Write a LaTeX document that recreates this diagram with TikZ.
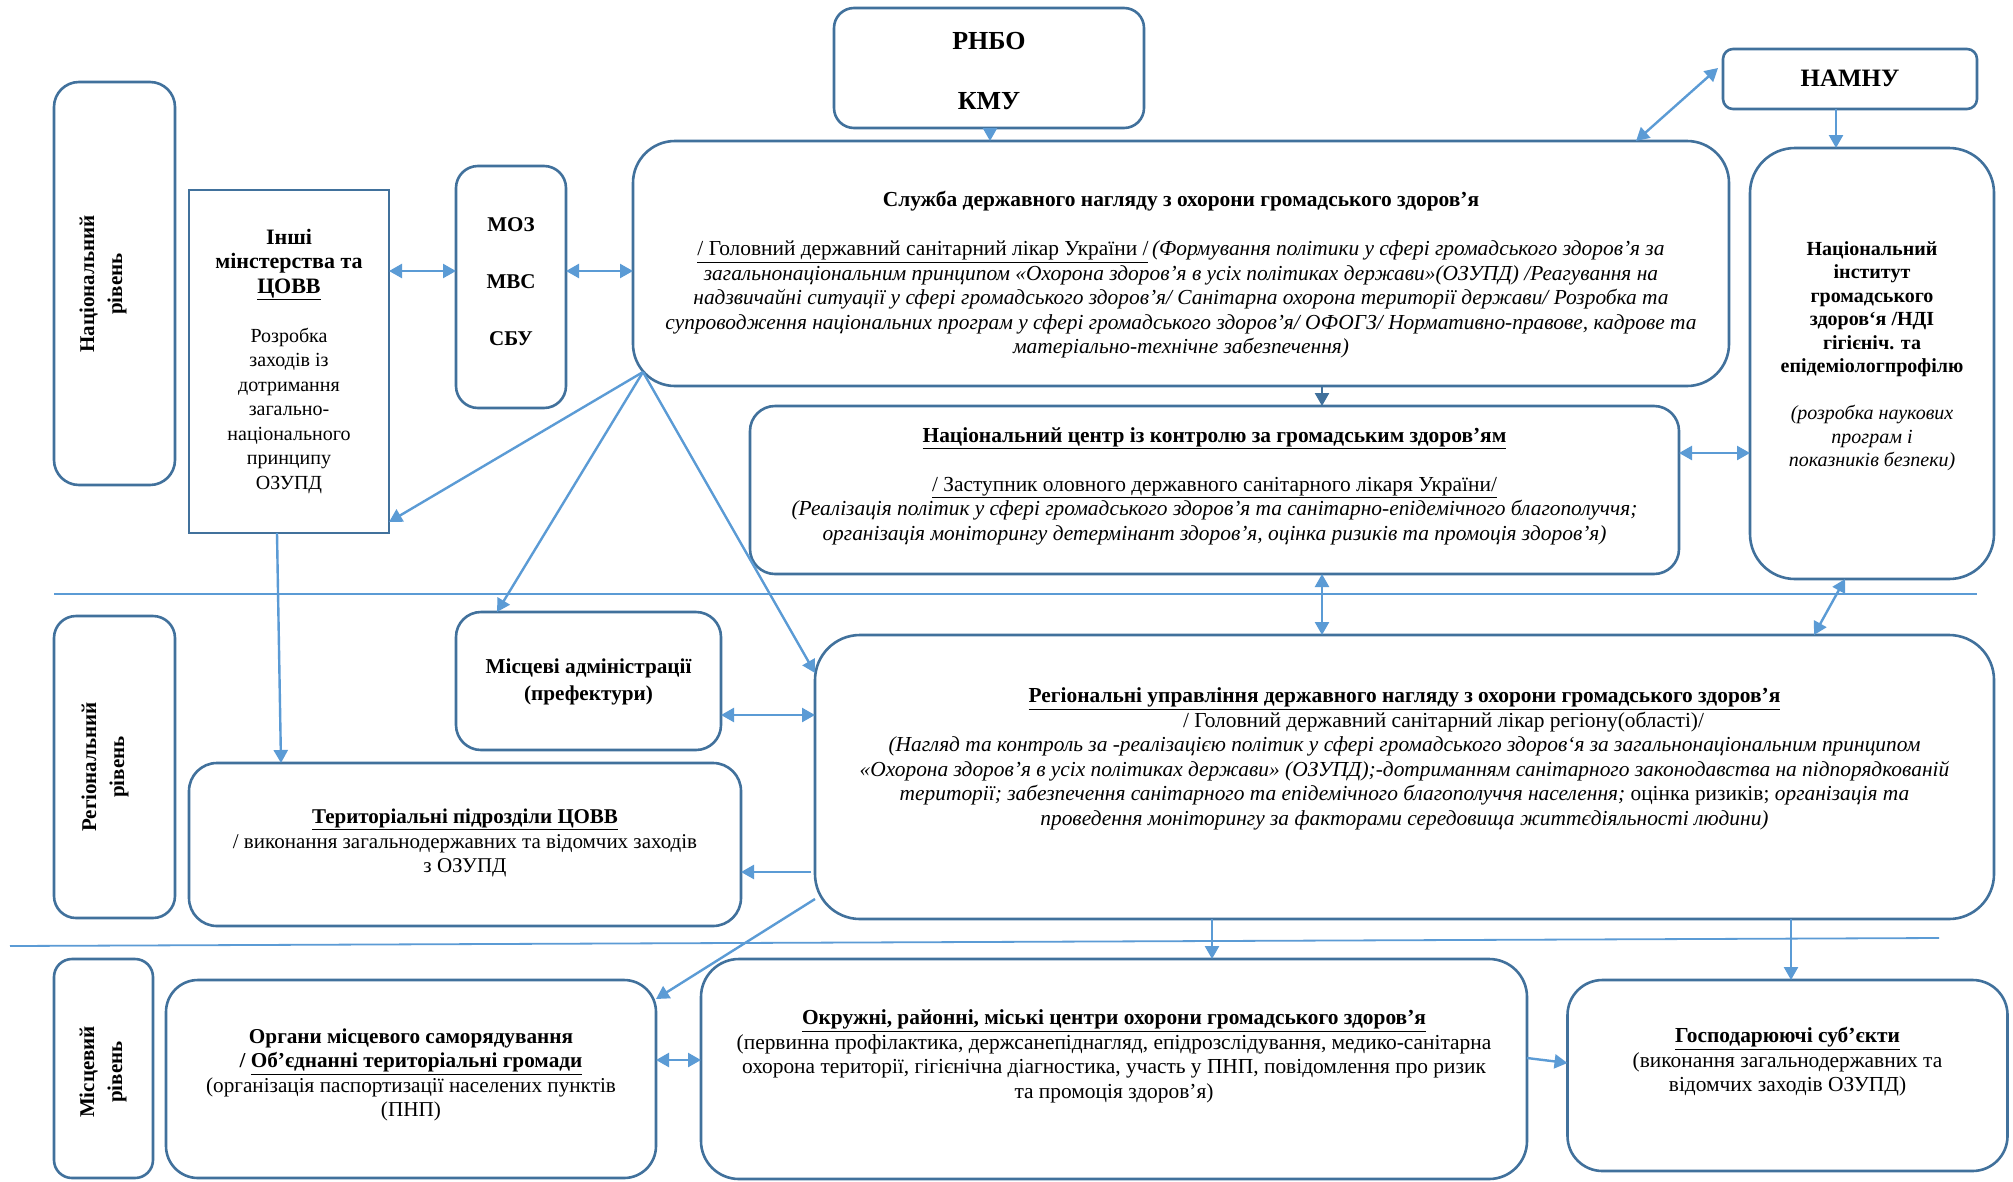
\documentclass[tikz,border=0pt]{standalone}
\usepackage{fontspec}
\setmainfont{Liberation Serif}
\usetikzlibrary{arrows.meta,calc}
\definecolor{bordc}{HTML}{41719C}
\definecolor{arrc}{HTML}{5B9BD5}
\begin{document}
\begin{tikzpicture}[x=1pt,y=-1pt,
  box/.style={draw=bordc, line width=2.6pt, rounded corners=#1, inner sep=0pt, outer sep=0pt, minimum width=10pt},
  box/.default=25pt,
  txt/.style={align=center, inner sep=0pt, font=\fontsize{21.4}{24.5}\selectfont},
  lvl/.style={rotate=90, align=center, inner sep=0pt, font=\bfseries\fontsize{21}{28}\selectfont},
  arr/.style={draw=arrc, line width=2.4pt, -{Triangle[length=13pt,width=14pt]}},
  biarr/.style={draw=arrc, line width=2.4pt, {Triangle[length=13pt,width=14pt]}-{Triangle[length=13pt,width=14pt]}},
  sep/.style={draw=arrc, line width=1.8pt}
]
\useasboundingbox (0,0) rectangle (2013,1181);
\fill[white] (0,0) rectangle (2013,1181);

% level boxes
\node[box=25pt, minimum width=121pt, minimum height=403pt] (natb) at (114.5,283.5) {};
\node[box=22pt, minimum width=121pt, minimum height=302pt] (regb) at (114.5,767) {};
\node[box=18pt, minimum width=99pt, minimum height=219pt] (locb) at (103.5,1068.5) {};
\node[lvl] (natl) at (103,284) {Національний\\рівень};
\node[lvl] (regl) at (105,767) {Регіональний\\рівень};
\node[lvl] (locl) at (103,1072) {Місцевий\\рівень};

% boxes
\node[box=0pt, minimum width=200pt, minimum height=343pt] (inshi) at (289,361.5) {};
\node[box=22pt, minimum width=110pt, minimum height=242pt] (moz) at (511,287) {};
\node[box=20pt, minimum width=310pt, minimum height=120pt] (rnbo) at (989,68) {};
\node[box=42pt, minimum width=1096pt, minimum height=245pt] (sl) at (1181,263.5) {};
\node[box=10pt, minimum width=254pt, minimum height=60pt] (namnu) at (1850,79) {};
\node[box=45pt, minimum width=244pt, minimum height=431pt] (inst) at (1872,363.5) {};
\node[box=25pt, minimum width=929pt, minimum height=168pt] (nc) at (1214.5,490) {};
\node[box=25pt, minimum width=265pt, minimum height=138pt] (madm) at (588.5,681) {};
\node[box=45pt, minimum width=1179pt, minimum height=284pt] (reg) at (1404.5,777) {};
\node[box=28pt, minimum width=552pt, minimum height=163pt] (ter) at (465,844.5) {};
\node[box=32pt, minimum width=490pt, minimum height=198pt] (org) at (411,1079) {};
\node[box=38pt, minimum width=826pt, minimum height=220pt] (okr) at (1114,1069) {};
\node[box=35pt, minimum width=440pt, minimum height=191pt] (gosp) at (1787.5,1075.5) {};

% texts
\node[txt, font=\bfseries\fontsize{26}{30}\selectfont] (rnbot) at (989,71) {РНБО\\[30pt]КМУ};
\node[txt, font=\bfseries\fontsize{25}{30}\selectfont] (namnut) at (1850,78) {НАМНУ};
\node[txt, font=\bfseries\fontsize{21}{28.5}\selectfont] (mozt) at (511,282) {МОЗ\\[28.5pt]МВС\\[28.5pt]СБУ};
\node[txt, font=\fontsize{20}{24.5}\selectfont] (inshit) at (289,361) {\textbf{\fontsize{22}{24.5}\selectfont Інші}\\\textbf{\fontsize{22}{24.5}\selectfont мінстерства та}\\\textbf{\fontsize{22}{24.5}\selectfont\underline{ЦОВВ}}\\[24.5pt]Розробка\\заходів із\\дотримання\\загально-\\національного\\принципу\\ОЗУПД};
\node[txt, font=\itshape\fontsize{21.4}{24.5}\selectfont] (slt) at (1181,275) {\textbf{\upshape Служба державного нагляду з охорони громадського здоров’я}\\[24.5pt]
\textup{\underline{/ Головний державний санітарний лікар України /}}\,(Формування політики у сфері громадського здоров’я за\\
загальнонаціональним принципом «Охорона здоров’я в усіх політиках держави»(ОЗУПД) /Реагування на\\
надзвичайні ситуації у сфері громадського здоров’я/ Санітарна охорона території держави/ Розробка та\\
супроводження національних програм у сфері громадського здоров’я/ ОФОГЗ/ Нормативно-правове, кадрове та\\
матеріально-технічне забезпечення)};
\node[txt, font=\fontsize{20}{23.5}\selectfont] (instt) at (1872,356) {\textbf{Національний}\\\textbf{інститут}\\\textbf{громадського}\\\textbf{здоров`я /НДІ}\\\textbf{гігієніч. та}\\\textbf{епідеміологпрофілю}\\[23.5pt]\textit{(розробка наукових}\\\textit{програм і}\\\textit{показників безпеки)}};
\node[txt] (nct) at (1214.5,486) {\textbf{\underline{Національний центр із контролю за громадським здоров’ям}}\\[24.5pt]
\underline{/ Заступник оловного державного санітарного лікаря України/}\\
\textit{(Реалізація політик у сфері громадського здоров’я та санітарно-епідемічного благополуччя;}\\
\textit{організація моніторингу детермінант здоров’я, оцінка ризиків та промоція здоров’я)}};
\node[txt, font=\bfseries\fontsize{21.2}{27}\selectfont] (madmt) at (588.5,682) {Місцеві адміністрації\\(префектури)};
\node[txt] (regt) at (1404.5,759) {\textbf{\underline{Регіональні управління державного нагляду з охорони громадського здоров’я}}\\
\hspace*{78pt}/ Головний державний санітарний лікар регіону(області)/\\
\textit{(Нагляд та контроль за -реалізацією політик у сфері громадського здоров`я за загальнонаціональним принципом}\\
\textit{«Охорона здоров’я в усіх політиках держави» (ОЗУПД);-дотриманням санітарного законодавства на підпорядкованій}\\
\textit{території; забезпечення санітарного та епідемічного благополуччя населення;} оцінка ризиків; \textit{організація та}\\
\textit{проведення моніторингу за факторами середовища життєдіяльності людини)}};
\node[txt, font=\fontsize{21}{24.5}\selectfont] (tert) at (465,843) {\textbf{\underline{Територіальні підрозділи ЦОВВ}}\\/ виконання загальнодержавних та відомчих заходів\\з ОЗУПД};
\node[txt, font=\fontsize{21.2}{24.5}\selectfont] (orgt) at (411,1075) {\textbf{Органи місцевого саморядування}\\\textbf{/ \underline{Об’єднанні територіальні громади}}\\(організація паспортизації населених пунктів\\(ПНП)};
\node[txt] (okrt) at (1114,1056.5) {\textbf{\underline{Окружні, районні, міські центри охорони громадського здоров’я}}\\(первинна профілактика, держсанепіднагляд, епідрозслідування, медико-санітарна\\охорона території, гігієнічна діагностика, участь у ПНП, повідомлення про ризик\\та промоція здоров’я)};
\node[txt] (gospt) at (1787.5,1062) {\textbf{\underline{Господарюючі суб’єкти}}\\(виконання загальнодержавних та\\відомчих заходів ОЗУПД)};

% separators
\draw[sep] (54,594) -- (1977,594);
\draw[sep] (10,946) -- (1939,938);

% connectors
\coordinate (slc) at (643,372);
\draw[biarr] (inshi.east |- 0,271) -- (moz.west |- 0,271);
\draw[biarr] (moz.east |- 0,271) -- (sl.west |- 0,271);
\draw[arr] (rnbo.south -| 990,0) -- (sl.north -| 990,0);
\draw[biarr] ([xshift=-5pt,yshift=11pt]namnu.west) -- (sl.north -| 1636,0);
\draw[arr] (namnu.south -| 1836,0) -- (inst.north -| 1836,0);
\draw[arr, draw=bordc] (sl.south -| 1322,0) -- (nc.north -| 1322,0);
\draw[biarr] (nc.east |- 0,453) -- (inst.west |- 0,453);
\draw[biarr] (nc.south -| 1322,0) -- (reg.north -| 1322,0);
\draw[biarr] (inst.south -| 1845,0) -- (reg.north -| 1814,0);
\draw[arr] (slc) -- (inshi.east |- 0,522);
\draw[arr] (slc) -- (madm.north -| 497,0);
\draw[arr] (slc) -- (reg.west |- 0,673);
\draw[arr] (inshi.south -| 277,0) -- (ter.north -| 281,0);
\draw[biarr] (madm.east |- 0,715) -- (reg.west |- 0,715);
\draw[arr] ([xshift=-4pt]reg.west |- 0,872) -- (ter.east |- 0,872);
\draw[arr] (reg.west |- 0,899) -- (org.east |- 0,999);
\draw[arr] (reg.south -| 1212,0) -- (okr.north -| 1212,0);
\draw[arr] (reg.south -| 1791,0) -- (gosp.north -| 1791,0);
\draw[biarr] (org.east |- 0,1060) -- (okr.west |- 0,1060);
\draw[arr] (okr.east |- 0,1058) -- (gosp.west |- 0,1063);
\end{tikzpicture}
\end{document}
